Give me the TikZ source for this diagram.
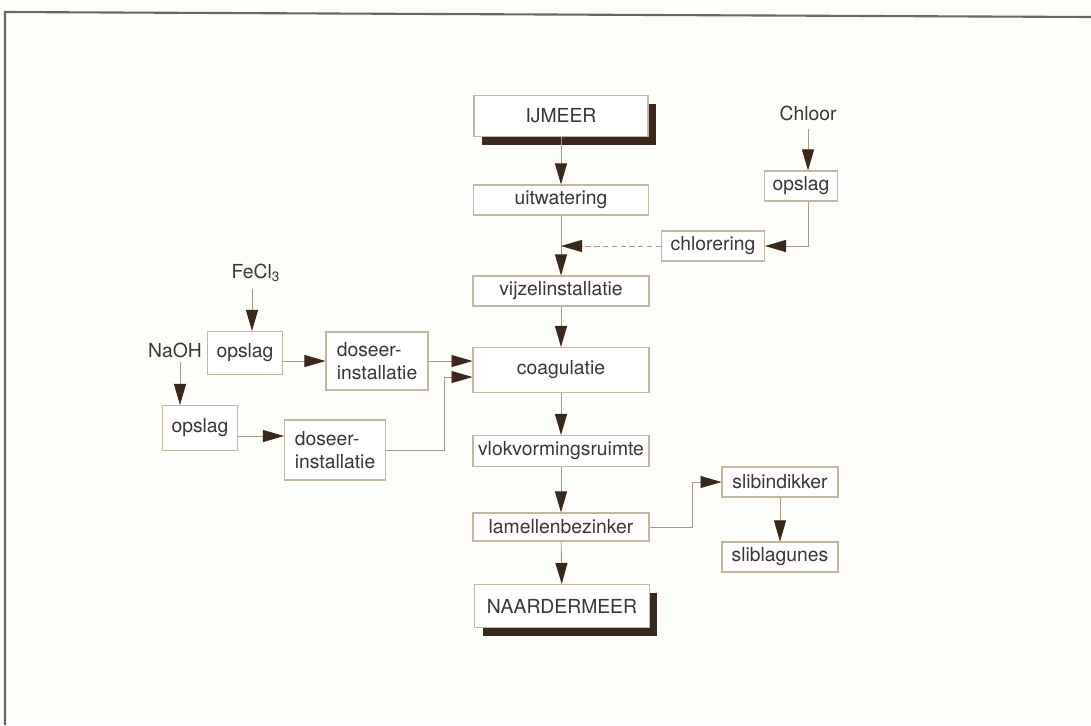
\documentclass[tikz,border=0pt]{standalone}
\usepackage{fontspec}
\setmainfont{TeX Gyre Heros}
\usetikzlibrary{positioning, arrows.meta, shadows}

\definecolor{bgcol}{HTML}{FDFDFA}
\definecolor{edgecol}{HTML}{C4B69F}
\definecolor{linecol}{HTML}{A6978A}
\definecolor{tipcol}{HTML}{3A281C}
\definecolor{textcol}{HTML}{3C3632}
\definecolor{framecol}{HTML}{6E665E}

\begin{document}
\begin{tikzpicture}[x=0.02cm, y=-0.02cm, font=\fontsize{11}{13}\selectfont, text=textcol]
            % Define node styles
            \tikzstyle{box} = [draw=edgecol, line width=0.6pt, fill=white, inner sep=2pt, align=center, minimum height=0.6cm]
            \tikzstyle{bigbox} = [box, minimum width=3.48cm, drop shadow={shadow xshift=0.16cm, shadow yshift=-0.17cm, fill=tipcol, opacity=1}]
            \tikzstyle{dosbox} = [box, align=left, minimum width=2.04cm]
            \tikzstyle{lbl} = [inner sep=1pt]
            \tikzstyle{arr} = [draw=linecol, line width=0.5pt, -{Triangle[length=4.2mm, width=2.4mm, color=tipcol]}]

            % Background and frame
            \useasboundingbox (0,0) rectangle (1091,725);
            \fill[bgcol] (0,0) rectangle (1091,725);
            \draw[framecol, line width=1.2pt] (5,725) -- (5,12) -- (1091,17);

            % Main column
            \node[bigbox, minimum height=0.82cm] (ijmeer) at (561,116) {IJMEER};
            \node[box, minimum width=3.5cm] (uitw) at (561,200) {uitwatering};
            \node[box, minimum width=3.52cm] (vijzel) at (561,291) {vijzelinstallatie};
            \node[box, minimum width=3.52cm, minimum height=0.9cm] (coag) at (561,370) {coagulatie};
            \node[box, minimum width=3.52cm, minimum height=0.62cm] (vlok) at (561,451) {vlokvormingsruimte};
            \node[box, minimum width=3.52cm, minimum height=0.56cm] (lamel) at (561,527) {lamellenbezinker};
            \node[bigbox, minimum width=3.5cm, minimum height=0.86cm] (naarder) at (562,606) {NAARDERMEER};

            % Chlorine branch
            \node[lbl] (chloor) at (808,113) {Chloor};
            \coordinate (cltop) at (808,129);
            \node[box, minimum width=1.46cm] (opslagC) at (801,186) {opslag};
            \node[box, minimum width=2.06cm] (chlor) at (713,246) {chlorering};

            % FeCl3 branch
            \node[lbl] (fecl) at (256,273) {FeCl\textsubscript{3}};
            \coordinate (fetop) at (252,289);
            \node[box, minimum width=1.5cm, minimum height=0.86cm] (opslagF) at (245,353) {opslag};
            \node[dosbox, minimum height=1.16cm] (doseerF) at (377,361) {doseer-\\installatie};

            % NaOH branch
            \node[lbl] (naoh) at (175,350) {NaOH};
            \coordinate (natop) at (180,362);
            \node[box, minimum width=1.5cm, minimum height=0.9cm] (opslagN) at (200,428) {opslag};
            \node[dosbox, minimum width=2.02cm, minimum height=1.2cm] (doseerN) at (335,450) {doseer-\\installatie};

            % Sludge branch
            \node[box, minimum width=2.32cm] (slibind) at (780,482) {slibindikker};
            \node[box, minimum width=2.32cm] (sliblag) at (780,557) {sliblagunes};

            % Main flow
            \draw[arr] (ijmeer) -- (uitw);
            \draw[arr] (uitw) -- (vijzel);
            \draw[arr] (vijzel) -- (coag);
            \draw[arr] (coag) -- (vlok);
            \draw[arr] (vlok) -- (lamel);
            \draw[arr] (lamel) -- (naarder);

            % Chlorine dosing
            \draw[arr] (cltop) -- (cltop |- opslagC.north);
            \draw[arr] (cltop |- opslagC.south) |- (chlor.east);
            \draw[arr, dash pattern=on 3pt off 2pt] (chlor.west) -- (chlor.west -| uitw.south);

            % Chemicals to coagulation
            \draw[arr] (fetop) -- (fetop |- opslagF.north);
            \draw[arr] (natop) -- (natop |- opslagN.north);
            \draw[arr] (opslagF.east |- doseerF.west) -- (doseerF.west);
            \draw[arr] ([yshift=-0.16cm]opslagN.east) -- ([yshift=-0.16cm]opslagN.east -| doseerN.west);
            \draw[arr] (doseerF.east) -- (doseerF.east -| coag.west);
            \coordinate (knee) at (444,377);
            \draw[arr] (doseerN.east) -| (knee) -- (knee -| coag.west);

            % Sludge
            \coordinate (slknee) at (692,482);
            \draw[arr] (lamel.east) -| (slknee) -- (slibind.west);
            \draw[arr] (slibind) -- (sliblag);
\end{tikzpicture}
\end{document}
